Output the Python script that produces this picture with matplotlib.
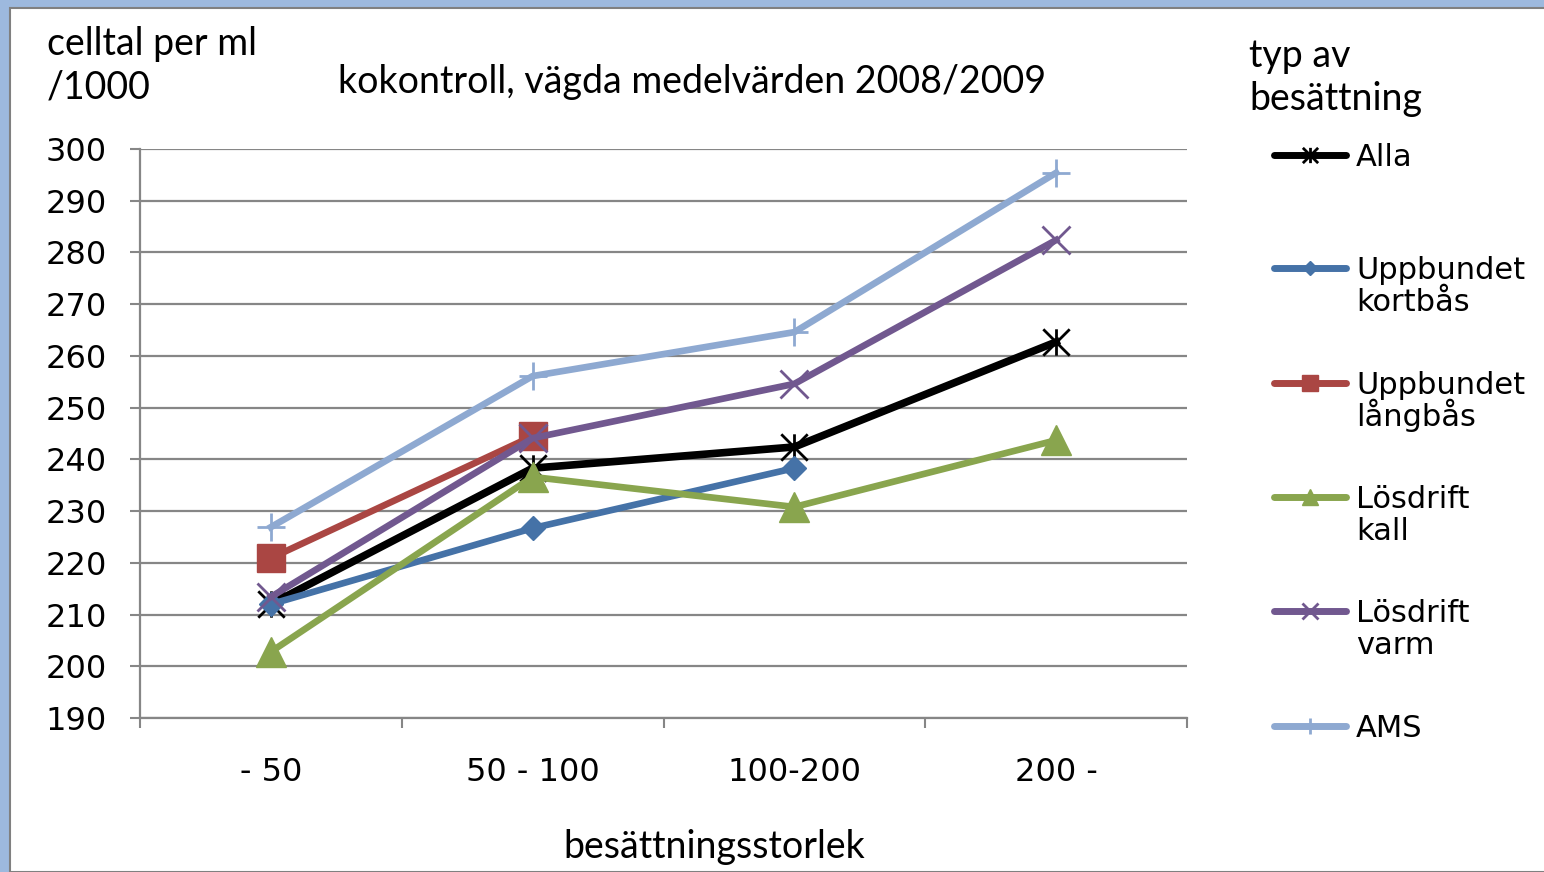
import numpy as np
import matplotlib.pyplot as plt
from matplotlib.path import Path
from matplotlib.patches import Rectangle

# data
kategorier = ['- 50', '50 - 100', '100-200', '200 -']
alla = [212.0, 238.3, 242.4, 262.7]
kortbas = [212.0, 226.7, 238.3, np.nan]
langbas = [220.9, 244.5, np.nan, np.nan]
kall = [202.8, 236.6, 230.8, 243.7]
varm = [213.4, 244.1, 254.6, 282.4]
ams = [226.9, 256.1, 264.6, 295.4]

namn = ['Alla', 'Uppbundet\nkortbås', 'Uppbundet\nlångbås',
        'Lösdrift\nkall', 'Lösdrift\nvarm', 'AMS']

# Excel-stjärna: kryss + lodrät linje
stjarna = Path([(-1, -1), (1, 1), (-1, 1), (1, -1), (0, -1), (0, 1)],
               [Path.MOVETO, Path.LINETO] * 3)

# (värden, färg, markör, storlek, kantbredd, linjebredd, storlek i legenden)
serier = [
    (alla, '#000000', stjarna, 19, 2.0, 5.5, 11),
    (kortbas, '#4572A7', 'D', 12, 1.0, 4.8, 7),
    (langbas, '#AA4643', 's', 20, 1.0, 4.8, 11),
    (kall, '#89A54E', '^', 21, 1.0, 4.8, 11),
    (varm, '#71588F', 'x', 20, 2.0, 4.8, 11),
    (ams, '#8EA9D1', '+', 20, 2.0, 4.8, 11),
]

sans = ['DejaVu Sans']
rubrik = ['Lato', 'DejaVu Sans']
gra = '#868686'

fig = plt.figure(figsize=(15.44, 8.72), dpi=100)
fig.patch.set_facecolor('#9DB9DE')
fig.add_artist(Rectangle((9.5 / 1544, 0), 1, (872 - 8) / 872, transform=fig.transFigure,
                         facecolor='white', edgecolor='#808080', lw=1.5, zorder=-1))

ax = fig.add_axes([140 / 1544, (872 - 718) / 872, 1047 / 1544, 569 / 872])
ax.set_facecolor('none')
x = np.arange(len(kategorier))
for (v, farg, mk, ms, mew, lw, _), n in zip(serier, namn):
    ax.plot(x, v, color=farg, lw=lw, marker=mk, ms=ms, mew=mew,
            mec=farg, mfc=farg, label=n)

ax.set_xlim(-0.5, 3.5)
ax.set_ylim(190, 300)
ax.set_yticks(np.arange(190, 301, 10))
ax.set_xticks(x)
ax.set_xticklabels(kategorier)
ax.set_xticks(np.arange(-0.5, 3.6, 1), minor=True)
ax.tick_params(axis='x', which='major', length=0, pad=28, labelsize=23)
ax.tick_params(axis='x', which='minor', length=7, width=1.5, color=gra)
ax.tick_params(axis='y', length=7, width=1.5, color=gra, pad=17, labelsize=23)
for lab in ax.get_xticklabels() + ax.get_yticklabels():
    lab.set_family(sans)
ax.grid(axis='y', color=gra, lw=1.6)
ax.set_axisbelow(True)
for s in ['top', 'right']:
    ax.spines[s].set_visible(False)
for s in ['left', 'bottom']:
    ax.spines[s].set_color(gra)
    ax.spines[s].set_linewidth(1.6)

# texter i pixelkoordinater
tx = fig.add_axes([0, 0, 1, 1])
tx.set_xlim(0, 1544)
tx.set_ylim(872, 0)
tx.axis('off')
tx.patch.set_alpha(0)


def rader(x0, y0, text, steg, **kw):
    # en textrad per anrop, så att baslinjerna hamnar rätt
    for i, rad in enumerate(text.split('\n')):
        tx.text(x0, y0 + i * steg, rad, va='baseline', **kw)


tx.text(692, 93, 'kokontroll, vägda medelvärden 2008/2009', ha='center', va='baseline',
        fontsize=27, family=rubrik)
rader(47, 55, 'celltal per ml\n/1000', 43, ha='left', fontsize=27, family=rubrik)
rader(1249, 67, 'typ av\nbesättning', 43, ha='left', fontsize=27, family=rubrik)
tx.text(714, 858, 'besättningsstorlek', ha='center', va='baseline',
        fontsize=27, family=rubrik)

# legend
leg_y = [155, 268, 383, 497, 611, 726]
for (v, farg, mk, ms, mew, lw, lms), n, y in zip(serier, namn, leg_y):
    tx.plot([1274, 1346], [y, y], color=farg, lw=5, solid_capstyle='round')
    tx.plot([1310], [y], marker=mk, ms=lms, mew=mew, color=farg, mec=farg, mfc=farg)
    rader(1356, y + 11, n, 32, ha='left', fontsize=22, family=sans)

fig.savefig('out.png', dpi=100, facecolor=fig.get_facecolor())
